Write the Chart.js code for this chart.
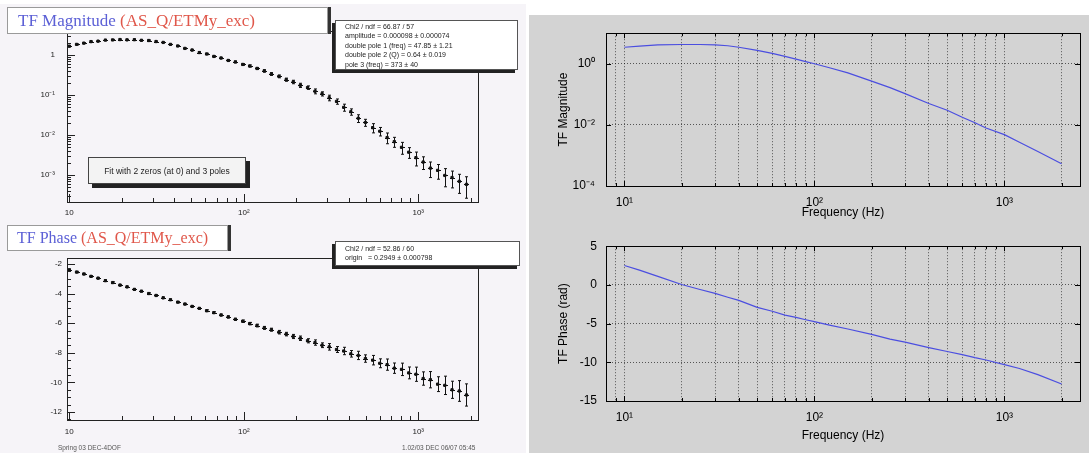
<!DOCTYPE html>
<html lang="en">
<head>
<meta charset="UTF-8">
<title>TF AS_Q/ETMy_exc</title>
<script src="https://cdn.jsdelivr.net/npm/chart.js"></script>
<style>
  body { margin: 0; width: 1089px; height: 453px; position: relative; overflow: hidden; background: #fff;
         font-family: "Liberation Sans", Arial, sans-serif; }
  .abs { position: absolute; }
  #rootBg { left: 0; top: 4px; width: 526px; height: 449px; background: #f6f4f8; }
  #matBg { left: 529px; top: 15px; width: 560px; height: 438px; background: #d3d3d3; }
  canvas.abs { z-index: 1; }
  .title { z-index: 2; background: #fff; border: 1px solid #9a9a9a; box-shadow: 3px 0 0 #333;
           font-family: "Liberation Serif", "Times New Roman", serif; white-space: nowrap; box-sizing: border-box; }
  .title .b { color: #5c60d6; }
  .title .r { color: #e0574a; }
  .stat { z-index: 2; background: #fff; border: 1px solid #555; box-shadow: -3px 3px 0 #222;
          font-size: 7px; line-height: 9.4px; padding: 1px 9px; box-sizing: border-box; color: #222; white-space: nowrap; overflow: hidden; }
  .fitbox { z-index: 2; background: #f3f3f3; border: 1px solid #444; box-shadow: 4px 4px 0 #222;
            font-size: 8.5px; text-align: center; line-height: 26px; box-sizing: border-box; color: #222; }
  .foot { z-index: 2; font-size: 6.5px; color: #555; }
</style>
</head>
<body>
<div id="rootBg" class="abs"></div>
<div id="matBg" class="abs"></div>

<canvas id="rootMag" class="abs" style="left:0;top:0" width="527" height="222"></canvas>
<canvas id="rootPhase" class="abs" style="left:0;top:222px" width="527" height="231"></canvas>
<canvas id="matMag" class="abs" style="left:527px;top:15px" width="562" height="215"></canvas>
<canvas id="matPhase" class="abs" style="left:527px;top:230px" width="562" height="223"></canvas>

<div class="abs title" style="left:7px;top:7px;width:321px;height:27px;font-size:17px;line-height:25px;padding-left:10px">
  <span class="b">TF Magnitude </span><span class="r">(AS_Q/ETMy_exc)</span></div>
<div class="abs stat" style="left:335px;top:20px;width:183px;height:50px">
  Chi2 / ndf = 66.87 / 57<br>
  amplitude = 0.000098 &plusmn; 0.000074<br>
  double pole 1 (freq) = 47.85 &plusmn; 1.21<br>
  double pole 2 (Q) = 0.64 &plusmn; 0.019<br>
  pole 3 (freq) = 373 &plusmn; 40</div>
<div class="abs fitbox" style="left:88px;top:157px;width:158px;height:27px">Fit with 2 zeros (at 0) and 3 poles</div>

<div class="abs title" style="left:7px;top:225px;width:221px;height:26px;font-size:16px;line-height:24px;padding-left:9px">
  <span class="b">TF Phase </span><span class="r">(AS_Q/ETMy_exc)</span></div>
<div class="abs stat" style="left:335px;top:241px;width:185px;height:25px;padding-top:2px">
  Chi2 / ndf = 52.86 / 60<br>
  origin &nbsp;&nbsp;= 0.2949 &plusmn; 0.000798</div>

<div class="abs foot" style="left:58px;top:444px">Spring 03 DEC-4DOF</div>
<div class="abs foot" style="left:402px;top:444px">1.02/03 DEC 06/07 05:45</div>

<script>
// measured transfer function points (left, ROOT panels)
const measFreq = [10, 11, 12.1, 13.3, 14.6, 16.1, 17.7, 19.5, 21.4, 23.6,
  25.9, 28.5, 31.4, 34.5, 38, 41.8, 45.9, 50.5, 55.6, 61.2,
  67.3, 74, 81.4, 89.5, 98.5, 108, 119, 131, 144, 159,
  175, 192, 211, 232, 256, 281, 309, 340, 374, 411,
  453, 498, 548, 602, 663, 729, 802, 882, 970, 1067,
  1174, 1291, 1420, 1562, 1719, 1890];
const measMag = [1.66, 1.84, 1.98, 2.16, 2.22, 2.36, 2.38, 2.43, 2.39, 2.41,
  2.33, 2.30, 2.17, 2.06, 1.84, 1.68, 1.46, 1.33, 1.15, 1.06,
  0.92, 0.84, 0.73, 0.67, 0.58, 0.53, 0.46, 0.40, 0.335, 0.292,
  0.242, 0.212, 0.175, 0.153, 0.124, 0.107, 0.085, 0.069, 0.049, 0.038,
  0.0262, 0.0205, 0.0152, 0.0124, 0.0086, 0.0068, 0.0049, 0.0037, 0.0027, 0.0021,
  0.00148, 0.00130, 0.00097, 0.00086, 0.00069, 0.00058];
// relative error on magnitude
const measMagErr = [0.03, 0.03, 0.03, 0.03, 0.03, 0.03, 0.03, 0.03, 0.03, 0.03,
  0.03, 0.03, 0.03, 0.03, 0.03, 0.03, 0.03, 0.04, 0.04, 0.04,
  0.04, 0.04, 0.05, 0.05, 0.05, 0.06, 0.06, 0.07, 0.08, 0.08,
  0.09, 0.10, 0.12, 0.10, 0.14, 0.12, 0.16, 0.15, 0.20, 0.18,
  0.22, 0.20, 0.26, 0.24, 0.30, 0.28, 0.33, 0.30, 0.38, 0.35,
  0.42, 0.40, 0.48, 0.45, 0.50, 0.55];
const measPhase = [-2.40, -2.55, -2.68, -2.84, -2.96, -3.13, -3.26, -3.43, -3.55, -3.72,
  -3.84, -4.00, -4.13, -4.29, -4.42, -4.58, -4.71, -4.87, -5.00, -5.16,
  -5.29, -5.45, -5.58, -5.74, -5.87, -6.03, -6.16, -6.32, -6.44, -6.61,
  -6.74, -6.90, -7.02, -7.19, -7.31, -7.49, -7.60, -7.78, -7.88, -8.07,
  -8.18, -8.39, -8.50, -8.71, -8.80, -9.04, -9.12, -9.36, -9.45, -9.74,
  -9.82, -10.12, -10.20, -10.50, -10.58, -10.85];
const measPhaseErr = [0.05, 0.05, 0.05, 0.05, 0.05, 0.05, 0.05, 0.05, 0.05, 0.05,
  0.05, 0.05, 0.05, 0.05, 0.05, 0.05, 0.05, 0.05, 0.05, 0.06,
  0.06, 0.06, 0.07, 0.07, 0.08, 0.08, 0.09, 0.10, 0.10, 0.12,
  0.12, 0.14, 0.15, 0.14, 0.18, 0.16, 0.22, 0.20, 0.25, 0.22,
  0.28, 0.25, 0.32, 0.30, 0.38, 0.35, 0.42, 0.40, 0.48, 0.45,
  0.55, 0.50, 0.62, 0.58, 0.70, 0.75];

// model curve (right, matlab panels)
const modelFreq = [10, 12, 15, 20, 25, 30, 35, 40, 50, 60, 70, 80, 90, 100,
  120, 150, 200, 250, 300, 400, 500, 600, 700, 800, 1000, 1200, 1500, 2000];
const modelMag = [3.47, 3.80, 4.17, 4.27, 4.27, 4.17, 3.89, 3.47, 2.75, 2.19, 1.74, 1.41, 1.17, 1.0,
  0.741, 0.501, 0.269, 0.166, 0.105, 0.0501, 0.0302, 0.0178, 0.0117, 0.00794, 0.00479, 0.0027, 0.00135, 0.000537];
const modelPhase = [2.5, 1.9, 1.1, 0.05, -0.6, -1.1, -1.6, -2.0, -2.9, -3.4, -3.9, -4.2, -4.5, -4.75,
  -5.2, -5.7, -6.4, -7.0, -7.4, -8.1, -8.6, -9.0, -9.4, -9.7, -10.3, -10.8, -11.6, -12.8];

// tick positions and labels
const rootFreqTicks = [10, 20, 30, 40, 50, 60, 70, 80, 90, 100, 200, 300, 400, 500, 600, 700, 800, 900, 1000, 2000];
const rootFreqLabelAt = [10, 100, 1000];
const rootFreqLabelText = ['10', '10²', '10³'];
const rootMagTicks = [0.0003, 0.0004, 0.0005, 0.0006, 0.0007, 0.0008, 0.0009,
  0.001, 0.002, 0.003, 0.004, 0.005, 0.006, 0.007, 0.008, 0.009,
  0.01, 0.02, 0.03, 0.04, 0.05, 0.06, 0.07, 0.08, 0.09,
  0.1, 0.2, 0.3, 0.4, 0.5, 0.6, 0.7, 0.8, 0.9, 1, 2, 3];
const rootMagLabelAt = [0.001, 0.01, 0.1, 1];
const rootMagLabelText = ['10⁻³', '10⁻²', '10⁻¹', '1'];
const rootPhaseTicks = [-12.5, -12, -11.5, -11, -10.5, -10, -9.5, -9, -8.5, -8, -7.5, -7,
  -6.5, -6, -5.5, -5, -4.5, -4, -3.5, -3, -2.5, -2];
const rootPhaseLabelAt = [-12, -10, -8, -6, -4, -2];
const rootPhaseLabelText = ['-12', '-10', '-8', '-6', '-4', '-2'];

const matFreqTicks = [9, 10, 20, 30, 40, 50, 60, 70, 80, 90, 100, 200, 300, 400, 500, 600, 700, 800, 900, 1000, 2000];
const matFreqLabelAt = [10, 100, 1000];
const matFreqLabelText = ['10¹', '10²', '10³'];
const matMagTicks = [0.0001, 0.01, 1];
const matMagLabelText = ['10⁻⁴', '10⁻²', '10⁰'];
const matPhaseTicks = [-15, -10, -5, 0, 5];
const matPhaseLabelText = ['-15', '-10', '-5', '0', '5'];

function labelFrom(vals, texts) {
  return v => { const i = vals.indexOf(v); return i < 0 ? '' : texts[i]; };
}
function fixedTicks(list) {
  return scale => { scale.ticks = list.map(v => ({ value: v })); };
}
function pairs(xs, ys) {
  return xs.map((x, i) => ({ x: x, y: ys[i] }));
}

// box around the plot area plus inward tick marks
function frame(o) {
  return {
    id: 'frame',
    afterDraw(chart) {
      const { ctx, chartArea: a, scales } = chart;
      ctx.save();
      ctx.strokeStyle = o.color;
      ctx.lineWidth = 1;
      ctx.beginPath();
      ['x', 'y'].forEach(k => {
        const s = scales[k];
        s.ticks.forEach(t => {
          const len = o.majors[k].includes(t.value) ? o.major : o.minor;
          const p = Math.round(s.getPixelForValue(t.value)) + 0.5;
          if (k === 'x') {
            ctx.moveTo(p, a.bottom); ctx.lineTo(p, a.bottom - len);
            if (o.mirror) { ctx.moveTo(p, a.top); ctx.lineTo(p, a.top + len); }
          } else {
            ctx.moveTo(a.left, p); ctx.lineTo(a.left + len, p);
            if (o.mirror) { ctx.moveTo(a.right, p); ctx.lineTo(a.right - len, p); }
          }
        });
      });
      ctx.stroke();
      ctx.strokeRect(Math.round(a.left) + 0.5, Math.round(a.top) + 0.5,
        Math.round(a.right - a.left), Math.round(a.bottom - a.top));
      ctx.restore();
    }
  };
}

// vertical error bars (rel: errors are fractions of the value)
function errorBars(vals, errs, rel) {
  return {
    id: 'errorBars',
    afterDatasetsDraw(chart) {
      const { ctx, chartArea: a } = chart;
      const ys = chart.scales.y;
      const pts = chart.getDatasetMeta(0).data;
      ctx.save();
      ctx.beginPath();
      ctx.rect(a.left, a.top, a.right - a.left, a.bottom - a.top);
      ctx.clip();
      ctx.strokeStyle = '#111';
      ctx.lineWidth = 1;
      ctx.beginPath();
      pts.forEach((p, i) => {
        const e = rel ? vals[i] * errs[i] : errs[i];
        const y1 = ys.getPixelForValue(vals[i] + e);
        const y2 = ys.getPixelForValue(vals[i] - e);
        const x = Math.round(p.x) + 0.5;
        ctx.moveTo(x, y1); ctx.lineTo(x, y2);
        ctx.moveTo(x - 1.5, y1); ctx.lineTo(x + 1.5, y1);
        ctx.moveTo(x - 1.5, y2); ctx.lineTo(x + 1.5, y2);
        ctx.moveTo(x - 2.5, Math.round(p.y) + 0.5); ctx.lineTo(x + 2.5, Math.round(p.y) + 0.5);
      });
      ctx.stroke();
      ctx.restore();
    }
  };
}

const rootFont = { family: 'Liberation Sans', size: 8 };
const matFont = { family: 'Liberation Sans', size: 12 };

function rootChart(id, yScale, vals, errs, rel, pad, xHeight, xPad) {
  return new Chart(document.getElementById(id), {
    type: 'scatter',
    data: { datasets: [{ data: pairs(measFreq, vals), backgroundColor: '#111', borderColor: '#111',
      pointStyle: 'rect', pointRadius: 1.6, pointHoverRadius: 1.6 }] },
    options: {
      responsive: false, animation: false, events: [],
      layout: { padding: pad },
      plugins: { legend: { display: false }, tooltip: { enabled: false } },
      scales: {
        x: {
          type: 'logarithmic', min: 9.7, max: 2200,
          afterBuildTicks: fixedTicks(rootFreqTicks),
          afterFit: s => { s.height = xHeight; },
          grid: { display: false, drawTicks: false },
          border: { display: false },
          ticks: { autoSkip: false, maxRotation: 0, padding: xPad, color: '#222', font: rootFont,
            callback: labelFrom(rootFreqLabelAt, rootFreqLabelText) }
        },
        y: yScale
      }
    },
    plugins: [errorBars(vals, errs, rel),
      frame({ color: '#222', major: 8, minor: 4, mirror: false,
        majors: { x: rootFreqLabelAt, y: yScale.majorsAt } })]
  });
}

rootChart('rootMag', {
  type: 'logarithmic', min: 0.00021, max: 3.98,
  majorsAt: rootMagLabelAt,
  afterBuildTicks: fixedTicks(rootMagTicks),
  afterFit: s => { s.width = 67; },
  grid: { display: false, drawTicks: false },
  border: { display: false },
  ticks: { autoSkip: false, padding: 12, color: '#222', font: rootFont,
    callback: labelFrom(rootMagLabelAt, rootMagLabelText) }
}, measMag, measMagErr, true, { left: 0, top: 31, right: 49, bottom: 2 }, 18, 6);

rootChart('rootPhase', {
  type: 'linear', min: -12.54, max: -1.6,
  majorsAt: rootPhaseLabelAt,
  afterBuildTicks: fixedTicks(rootPhaseTicks),
  afterFit: s => { s.width = 67; },
  grid: { display: false, drawTicks: false },
  border: { display: false },
  ticks: { autoSkip: false, padding: 5, color: '#222', font: rootFont,
    callback: labelFrom(rootPhaseLabelAt, rootPhaseLabelText) }
}, measPhase, measPhaseErr, false, { left: 0, top: 36, right: 49, bottom: 3 }, 30, 7);

function matChart(id, vals, yScale, yTitle, xHeight) {
  return new Chart(document.getElementById(id), {
    type: 'scatter',
    data: { datasets: [{ data: pairs(modelFreq, vals), showLine: true, borderColor: '#4b4ee0',
      borderWidth: 1.2, pointRadius: 0, fill: false }] },
    options: {
      responsive: false, animation: false, events: [],
      layout: { padding: { left: 25, top: 14, right: 9, bottom: 6 } },
      plugins: { legend: { display: false }, tooltip: { enabled: false } },
      scales: {
        x: {
          type: 'logarithmic', min: 8, max: 2500,
          afterBuildTicks: fixedTicks(matFreqTicks),
          afterFit: s => { s.height = xHeight; },
          grid: { color: 'rgba(0,0,0,0.6)', lineWidth: 1, drawTicks: false },
          border: { display: false, dash: [1, 2] },
          ticks: { autoSkip: false, maxRotation: 0, padding: 9, color: '#000', font: matFont,
            callback: labelFrom(matFreqLabelAt, matFreqLabelText) },
          title: { display: true, text: 'Frequency (Hz)', color: '#000', font: matFont }
        },
        y: Object.assign({
          afterFit: s => { s.width = 54; },
          grid: { color: 'rgba(0,0,0,0.6)', lineWidth: 1, drawTicks: false },
          border: { display: false, dash: [1, 2] },
          title: { display: true, text: yTitle, color: '#000', font: matFont }
        }, yScale)
      }
    },
    plugins: [frame({ color: '#000', major: 5, minor: 3, mirror: true,
      majors: { x: matFreqLabelAt, y: yScale.majorsAt } })]
  });
}

matChart('matMag', modelMag, {
  type: 'logarithmic', min: 0.0001, max: 10,
  majorsAt: matMagTicks,
  afterBuildTicks: fixedTicks(matMagTicks),
  ticks: { autoSkip: false, padding: 11, color: '#000', font: matFont,
    callback: labelFrom(matMagTicks, matMagLabelText) }
}, 'TF Magnitude', 38);

matChart('matPhase', modelPhase, {
  type: 'linear', min: -15, max: 5,
  majorsAt: matPhaseTicks,
  afterBuildTicks: fixedTicks(matPhaseTicks),
  ticks: { autoSkip: false, padding: 9, color: '#000', font: matFont,
    callback: labelFrom(matPhaseTicks, matPhaseLabelText) }
}, 'TF Phase (rad)', 46);
</script>
</body>
</html>
